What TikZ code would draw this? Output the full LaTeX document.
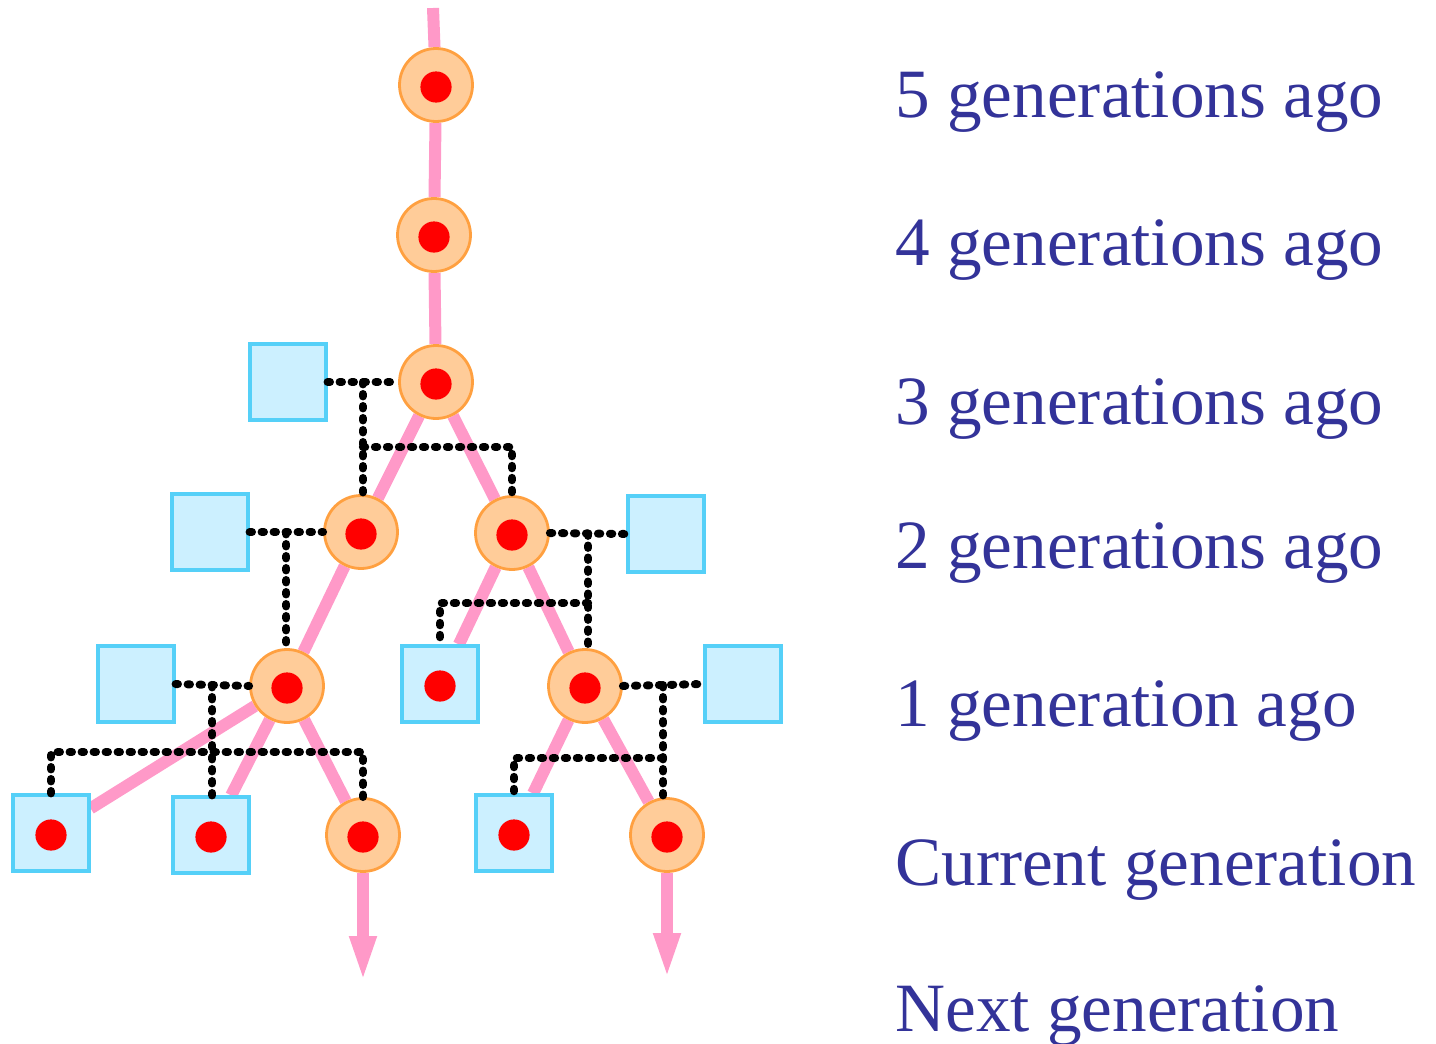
\documentclass[tikz,border=0pt]{standalone}
\usepackage{fontspec}
\setmainfont{Liberation Serif}
\usetikzlibrary{arrows.meta,calc,backgrounds}

\definecolor{femfill}{HTML}{FFCC99}
\definecolor{femline}{HTML}{FFA040}
\definecolor{malefill}{HTML}{CCF0FF}
\definecolor{maleline}{HTML}{55D0F8}
\definecolor{mito}{HTML}{FF0000}
\definecolor{lineage}{HTML}{FF99C8}
\definecolor{gentext}{HTML}{333399}

\tikzset{
	mtdot/.style={path picture={\fill[mito] ([yshift=-1pt]path picture bounding box.center) circle (7.8pt);}},
	fem/.style={circle, draw=femline, fill=femfill, line width=1.4pt, minimum size=36.5pt, inner sep=0pt, mtdot},
	male/.style={rectangle, draw=maleline, fill=malefill, line width=1.6pt, minimum size=38pt, inner sep=0pt},
	carrier/.style={male, mtdot},
	mtline/.style={draw=lineage, line width=6pt},
	marriage/.style={draw=black, line width=4pt, line cap=round, dash pattern=on 1.2pt off 4.8pt},
	genlabel/.style={anchor=base west, text=gentext, inner sep=0pt, font=\fontsize{34.6}{40}\selectfont}
}

\begin{document}
\begin{tikzpicture}[x=0.5pt, y=-0.5pt]
		\useasboundingbox (0,0) rectangle (1436,1044);
		% maternal line, circles
		\coordinate (top) at (433,8);
		\node[fem] (g5) at (436,85) {};
		\node[fem] (g4) at (434,235) {};
		\node[fem] (g3) at (436,382) {};
		\node[fem] (l2) at (361,532) {};
		\node[fem] (r2) at (512,533) {};
		\node[fem] (l1) at (287,686) {};
		\node[fem] (r1) at (585,686) {};
		\node[fem] (da) at (363,835) {};
		\node[fem] (db) at (667,835) {};
		% husbands
		\node[male] (h3) at (288,382) {};
		\node[male] (hl2) at (210,532) {};
		\node[male] (hr2) at (666,534) {};
		\node[male] (hl1) at (136,684) {};
		\node[male] (hr1) at (743,684) {};
		% sons, they carry the mother's mtDNA
		\node[carrier] (s1) at (440,684) {};
		\node[carrier] (sa) at (51,833) {};
		\node[carrier] (sb) at (211,835) {};
		\node[carrier] (sc) at (514,833) {};
		\coordinate (na) at (363,983);
		\coordinate (nb) at (667,980);
		\begin{scope}[on background layer]
			\draw[mtline] (top) -- (g5) -- (g4) -- (g3);
			\draw[mtline] (g3) -- (l2);
			\draw[mtline] (g3) -- (r2);
			\draw[mtline] (l2) -- (l1);
			\draw[mtline] (r2) -- (s1);
			\draw[mtline] (r2) -- (r1);
			\draw[mtline] (l1) -- (sa);
			\draw[mtline] (l1) -- (sb);
			\draw[mtline] (l1) -- (da);
			\draw[mtline] (r1) -- (sc);
			\draw[mtline] (r1) -- (db);
			\draw[mtline, -{Triangle[length=23.5pt, width=12pt]}] (da) -- (na);
			\draw[mtline, -{Triangle[length=23.5pt, width=12pt]}] (db) -- (nb);
		\end{scope}
		% marriages and children
		\coordinate (bar3) at (0,447);
		\coordinate (bar2) at (0,603);
		\coordinate (bar1l) at (0,752);
		\coordinate (bar1r) at (0,758);
		\coordinate (m3) at ($(h3.east)!0.5!(g3.west)$);
		\coordinate (m2l) at ($(hl2.east)!0.5!(l2.west)$);
		\coordinate (m2r) at ($(r2.east)!0.5!(hr2.west)$);
		\coordinate (m1l) at ($(hl1.east)!0.5!(l1.west)$);
		\coordinate (m1r) at ($(r1.east)!0.5!(hr1.west)$);
		\draw[marriage] (h3.east) -- (g3.west);
		\draw[marriage] (m3) -- (m3 |- l2.north);
		\draw[marriage] (m3 |- bar3) -| (r2.north);
		\draw[marriage] (hl2.east) -- (l2.west);
		\draw[marriage] (m2l) -- (m2l |- l1.north);
		\draw[marriage] (r2.east) -- (hr2.west);
		\draw[marriage] (m2r) -- (m2r |- r1.north);
		\draw[marriage] (m2r |- bar2) -| (s1.north);
		\draw[marriage] (hl1.east) -- (l1.west);
		\draw[marriage] (m1l) -- (m1l |- sb.north);
		\draw[marriage] (sa.north) -- (sa.north |- bar1l) -| (da.north);
		\draw[marriage] (r1.east) -- (hr1.west);
		\draw[marriage] (m1r) -- (m1r |- db.north);
		\draw[marriage] (m1r |- bar1r) -| (sc.north);
		% generation labels
		\node[genlabel] (t5) at (895,117) {5 generations ago};
		\node[genlabel] (t4) at (895,265) {4 generations ago};
		\node[genlabel] (t3) at (895,424) {3 generations ago};
		\node[genlabel] (t2) at (895,568) {2 generations ago};
		\node[genlabel] (t1) at (895,726) {1 generation ago};
		\node[genlabel] (t0) at (895,885) {Current generation};
		\node[genlabel] (tn) at (895,1031) {Next generation};
\end{tikzpicture}
\end{document}
